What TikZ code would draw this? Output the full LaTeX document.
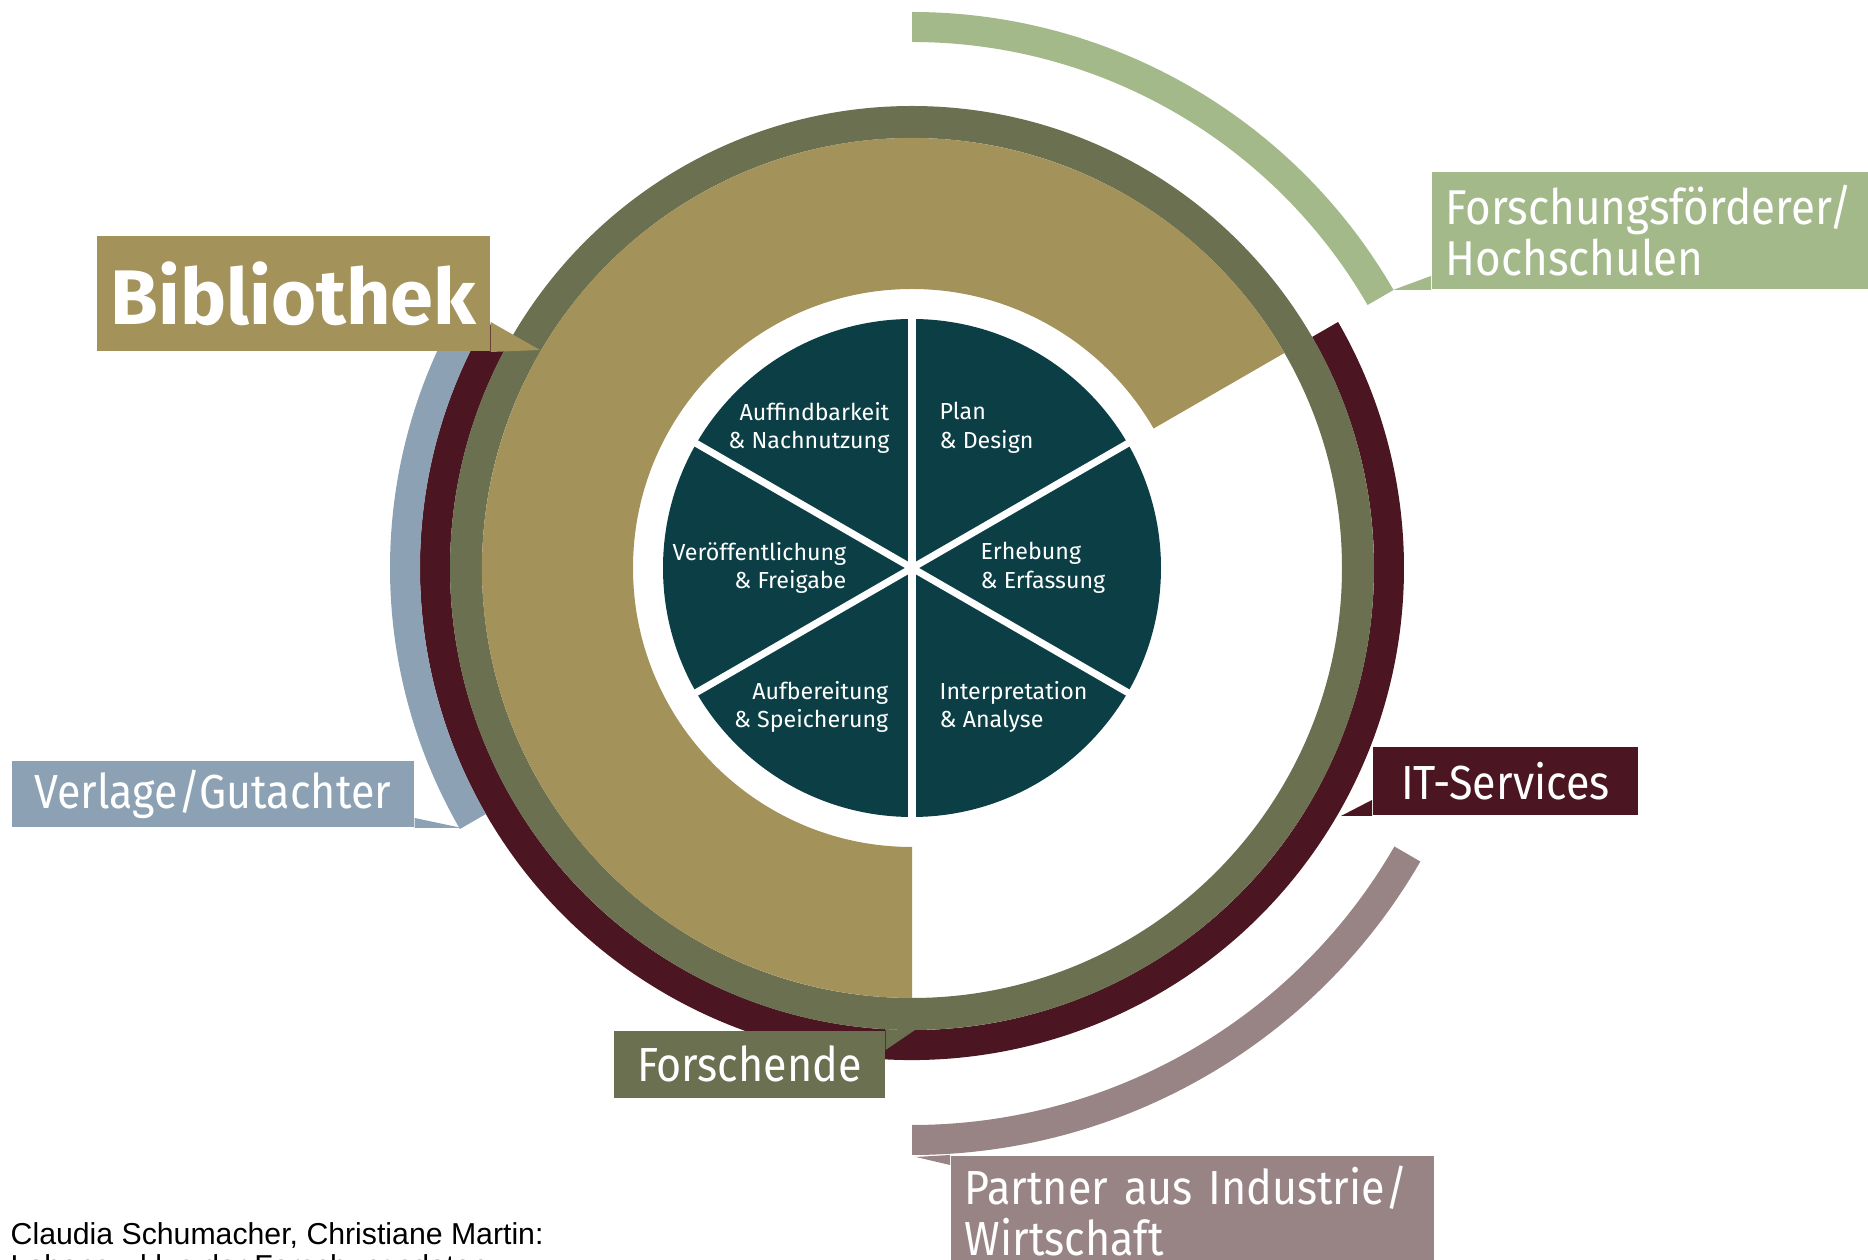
\documentclass[tikz,border=0pt]{standalone}
\usepackage{fontspec}
\setmainfont{Fira Sans}
\newfontfamily\lblfont{Fira Sans}[FakeStretch=0.9]
\newfontfamily\citefont{Liberation Sans}
\usepackage{xcolor}
\usetikzlibrary{calc}

\definecolor{lifeteal}{RGB}{11,63,69}
\definecolor{bibgold}{RGB}{163,146,89}
\definecolor{forscholive}{RGB}{106,112,80}
\definecolor{itmaroon}{RGB}{75,22,33}
\definecolor{verlblue}{RGB}{140,161,179}
\definecolor{foerdgreen}{RGB}{163,185,138}
\definecolor{partmauve}{RGB}{152,131,133}

\begin{document}
\begin{tikzpicture}[x=0.01cm,y=0.01cm,
  lbl/.style={rectangle,inner ysep=0pt,inner xsep=0.14cm,text=white,font=\lblfont\fontsize{13.6}{14.5}\selectfont,align=left},
  phase/.style={inner sep=0pt,text=white,font=\fontsize{6.6}{8.1}\selectfont}]

\useasboundingbox (0,0) rectangle (1868,1260);
\coordinate (ctr) at (912,692);

% Rings round the life cycle
\foreach \col/\a/\b/\ri/\ro in {itmaroon/-210/30/462/492, forscholive/0/360/430/462, bibgold/30/270/279/430,
    verlblue/150/210/492/522, foerdgreen/30/90/526/556, partmauve/-90/-30/557/587}
  \fill[\col] ($(ctr)+(\a:\ro)$) arc[start angle=\a,end angle=\b,radius=\ro]
    -- ($(ctr)+(\b:\ri)$) arc[start angle=\b,end angle=\a,radius=\ri] -- cycle;

% The life cycle itself
\fill[lifeteal] (ctr) circle[radius=249];
\foreach \w in {30,90,...,330}
  \draw[white,line width=2pt] (ctr) -- ++(\w:260);

\node[phase,anchor=east,align=right] (s1) at (890,832) {Auffindbarkeit\\\& Nachnutzung};
\node[phase,anchor=west,align=left] (s2) at (939,832) {Plan\\\& Design};
\node[phase,anchor=west,align=left] (s3) at (980,692) {Erhebung\\\& Erfassung};
\node[phase,anchor=west,align=left] (s4) at (939,553) {Interpretation\\\& Analyse};
\node[phase,anchor=east,align=right] (s5) at (889,553) {Aufbereitung\\\& Speicherung};
\node[phase,anchor=east,align=right] (s6) at (847,692) {Ver\"offentlichung\\\& Freigabe};

% Labels of the players
\node[lbl,fill=bibgold,anchor=south west,minimum width=3.93cm,minimum height=1.15cm,inner xsep=0pt,align=center,
  font=\bfseries\fontsize{22}{22}\selectfont] (bib) at (96,908) {Bibliothek};
\node[lbl,fill=foerdgreen,anchor=south west,text width=4.09cm,minimum height=1.17cm,
  font=\lblfont\fontsize{13.9}{14.5}\selectfont] (foerd) at (1431,970) {Forschungsf\"orderer/\\Hochschulen};
\node[lbl,fill=verlblue,anchor=south west,minimum width=4.02cm,minimum height=0.66cm] (verl) at (11,432) {Verlage/Gutachter};
\node[lbl,fill=itmaroon,anchor=south west,minimum width=2.65cm,minimum height=0.68cm] (its) at (1372,444) {IT-Services};
\node[lbl,fill=forscholive,anchor=north west,minimum width=2.71cm,minimum height=0.67cm] (forsch) at (613,230) {Forschende};
\node[lbl,fill=partmauve,anchor=north west,text width=4.55cm,minimum height=1.1cm] (partner) at (950,105)
  {Partner aus Industrie/\\Wirtschaft};

% Pointers from the labels to their rings
\coordinate (bibtip) at (540,910);
\coordinate (foerdtip) at (1393,970);
\coordinate (verltip) at (462,432);
\coordinate (itstip) at (1341,444);
\coordinate (forschtip) at (915,230);
\coordinate (parttip) at (916,103);
\fill[bibgold] (bib.south east) -- ([yshift=0.3cm]bib.south east) -- (bibtip) -- cycle;
\fill[foerdgreen] (foerd.south west) -- ([yshift=0.14cm]foerd.south west) -- (foerdtip) -- cycle;
\fill[verlblue] (verl.south east) -- ([yshift=0.1cm]verl.south east) -- (verltip) -- cycle;
\fill[itmaroon] (its.south west) -- ([yshift=0.16cm]its.south west) -- (itstip) -- cycle;
\fill[forscholive] (forsch.north east) -- ([yshift=-0.2cm]forsch.north east) -- (forschtip) -- cycle;
\fill[partmauve] (partner.north west) -- ([yshift=-0.1cm]partner.north west) -- (parttip) -- cycle;

% Source
\node[anchor=base west,inner sep=0pt,font=\citefont\fontsize{8.6}{10}\selectfont] (cite1) at (10,15)
  {Claudia Schumacher, Christiane Martin:};
\node[anchor=base west,inner sep=0pt,font=\citefont\fontsize{8.6}{10}\selectfont] (cite2) at (10,-17)
  {Lebenszyklus der Forschungsdaten};

\end{tikzpicture}
\end{document}
